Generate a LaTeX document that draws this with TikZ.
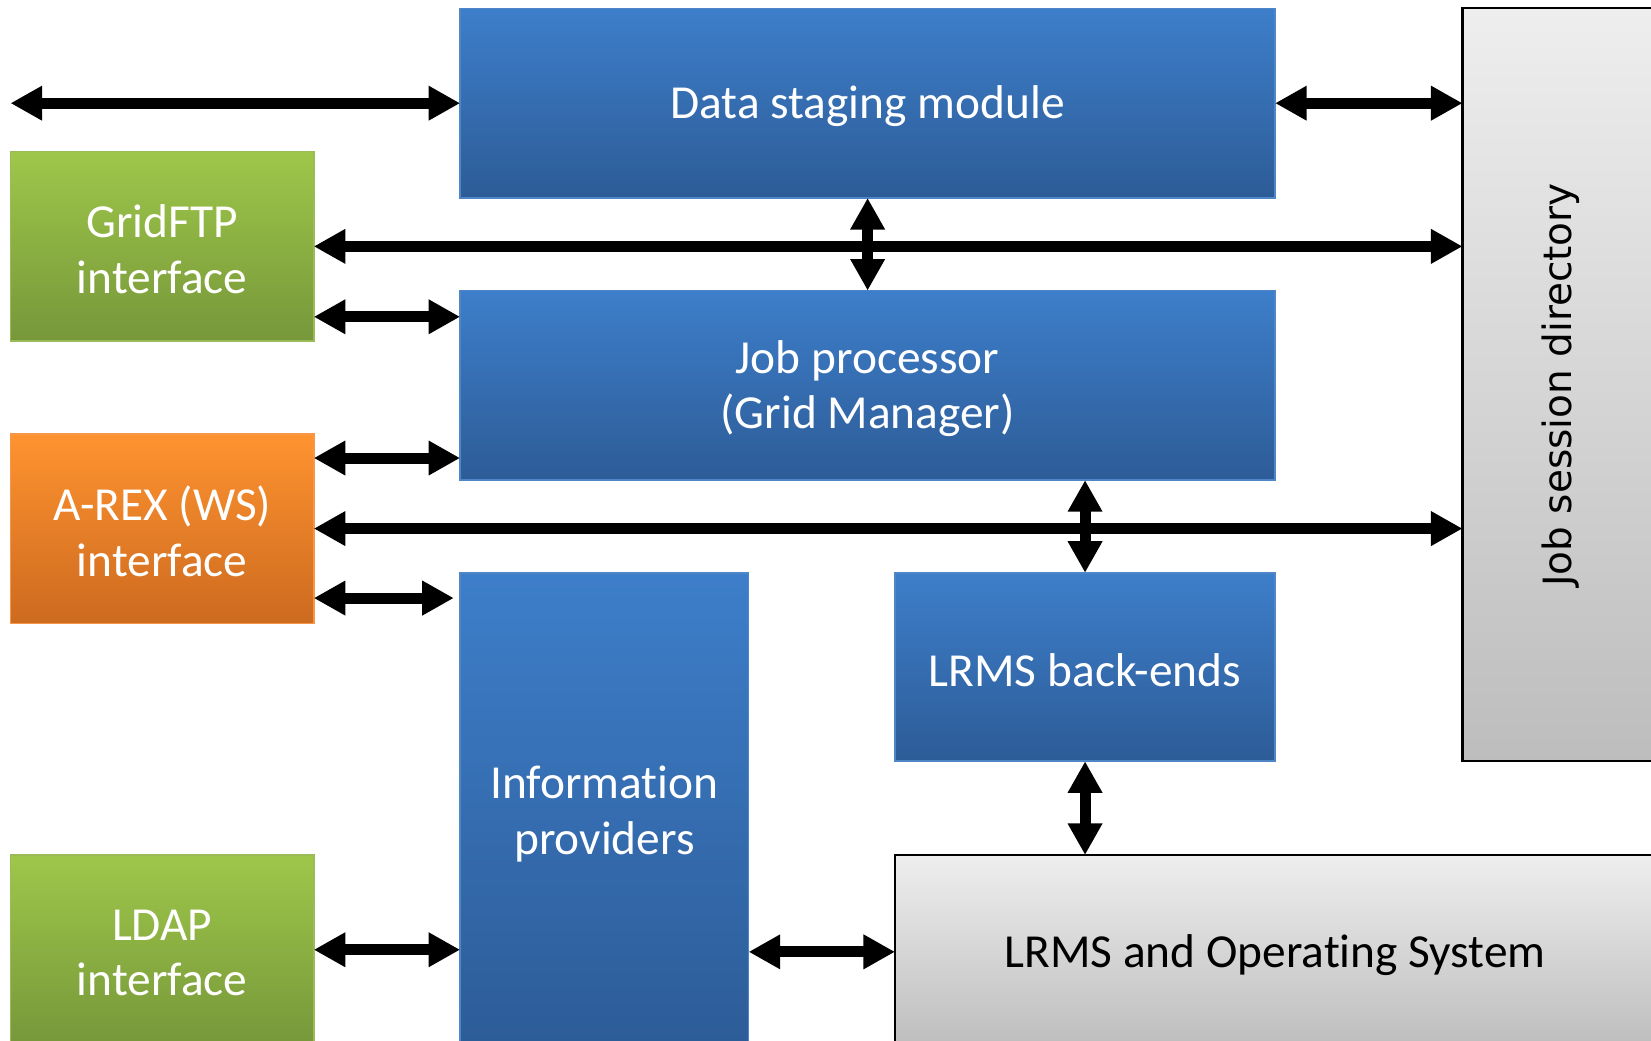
\documentclass[tikz,border=0pt]{standalone}
\usepackage{fontspec}
\setmainfont{Carlito}[Ligatures=NoCommon]
\newfontfamily\dejavu{DejaVu Sans}
\usetikzlibrary{arrows.meta,calc}
\definecolor{bluetop}{HTML}{3D7ECA}
\definecolor{bluebot}{HTML}{2D5C97}
\definecolor{blueline}{HTML}{4F86C8}
\definecolor{greentop}{HTML}{9EC74A}
\definecolor{greenbot}{HTML}{77973A}
\definecolor{greenline}{HTML}{9BBB59}
\definecolor{orangetop}{HTML}{FF9330}
\definecolor{orangebot}{HTML}{CC6A1F}
\definecolor{orangeline}{HTML}{F79646}
\definecolor{graytop}{HTML}{EEEEEE}
\definecolor{graybot}{HTML}{BDBDBD}
\tikzset{
  boxbase/.style={rectangle, inner sep=0pt, outer sep=0pt, anchor=north west, line width=0.75pt},
  bluebox/.style={boxbase, draw=blueline, top color=bluetop, bottom color=bluebot},
  greenbox/.style={boxbase, draw=greenline, top color=greentop, bottom color=greenbot},
  orangebox/.style={boxbase, draw=orangeline, top color=orangetop, bottom color=orangebot},
  graybox/.style={boxbase, draw=black, line width=1pt, top color=graytop, bottom color=graybot},
  boxtext/.style={inner sep=0pt, align=center, yshift=-1.5pt, text=white,
    font=\fontsize{22.5}{26.5}\selectfont},
  darktext/.style={boxtext, text=black},
  dblarrow/.style={line width=5.2pt, {Triangle[length=15pt,width=15.5pt]}-{Triangle[length=15pt,width=15.5pt]}},
}
\begin{document}
\begin{tikzpicture}[x=0.5pt,y=-0.5pt]
\useasboundingbox (0,0) rectangle (1568,988.6);
\clip (0,0) rectangle (1568,988.6);
\fill[white] (0,0) rectangle (1568,988.6);
% boxes
\node[bluebox, minimum width=387pt, minimum height=90pt] (ds) at (437,8) {};
\node[bluebox, minimum width=387pt, minimum height=90pt] (jp) at (437,276) {};
\node[greenbox, minimum width=144pt, minimum height=90pt] (grid) at (10,144) {};
\node[orangebox, minimum width=144pt, minimum height=90pt] (arex) at (10,412) {};
\node[bluebox, minimum width=137pt, minimum height=226pt] (ip) at (437,544) {};
\node[bluebox, minimum width=180.5pt, minimum height=89.5pt] (lb) at (850,544) {};
\node[greenbox, minimum width=144pt, minimum height=90pt] (ldap) at (10,812) {};
\node[graybox, minimum width=361pt, minimum height=92pt] (os) at (850,812) {};
\node[graybox, minimum width=93.5pt, minimum height=357.5pt] (jsd) at (1389,8) {};
% texts
\node[boxtext] (dst) at (ds.center) {Data staging module};
\node[boxtext] (jpt) at (jp.center) {Job processor\\(Grid Manager)};
\node[boxtext] (gridt) at (grid.center) {GridFTP\\interface};
\node[boxtext] (arext) at (arex.center) {A-REX (WS)\\interface};
\node[boxtext] (ipt) at (ip.center) {Information\\providers};
\node[boxtext] (lbt) at (lb.center) {LRMS back-ends};
\node[boxtext] (ldapt) at (ldap.center) {LDAP\\interface};
\node[darktext] (ost) at (os.center) {LRMS and Operating System};
\node[rotate=90, font=\dejavu\fontsize{18.5}{22}\selectfont, text=black] (jsdt) at (jsd.center) {Job session directory};
% free ends
\coordinate (lfree) at (10,98);
\coordinate (ipstop) at (431,568);
% connectors
\draw[dblarrow] (lfree) -- (lfree -| ds.west);
\draw[dblarrow] (ds.east |- lfree) -- (jsd.west |- lfree);
\draw[dblarrow] (grid.east) -- (jsd.west |- grid.east);
\draw[dblarrow] (ds.south) -- (jp.north);
\draw[dblarrow] ($(grid.north east)!0.8715!(grid.south east)$) -- (jp.west |- {$(grid.north east)!0.8715!(grid.south east)$});
\draw[dblarrow] ($(arex.north east)+(0,23)$) -- (jp.west |- {$(arex.north east)+(0,23)$});
\draw[dblarrow] (arex.east) -- (jsd.west |- arex.east);
\draw[dblarrow] (lb.north |- jp.south) -- (lb.north);
\draw[dblarrow] (arex.east |- ipstop) -- (ipstop);
\draw[dblarrow] (lb.south) -- (lb.south |- os.north);
\draw[dblarrow] (ldap.east) -- (ip.west |- ldap.east);
\draw[dblarrow] (ip.east |- os.west) -- (os.west);
\end{tikzpicture}
\end{document}
